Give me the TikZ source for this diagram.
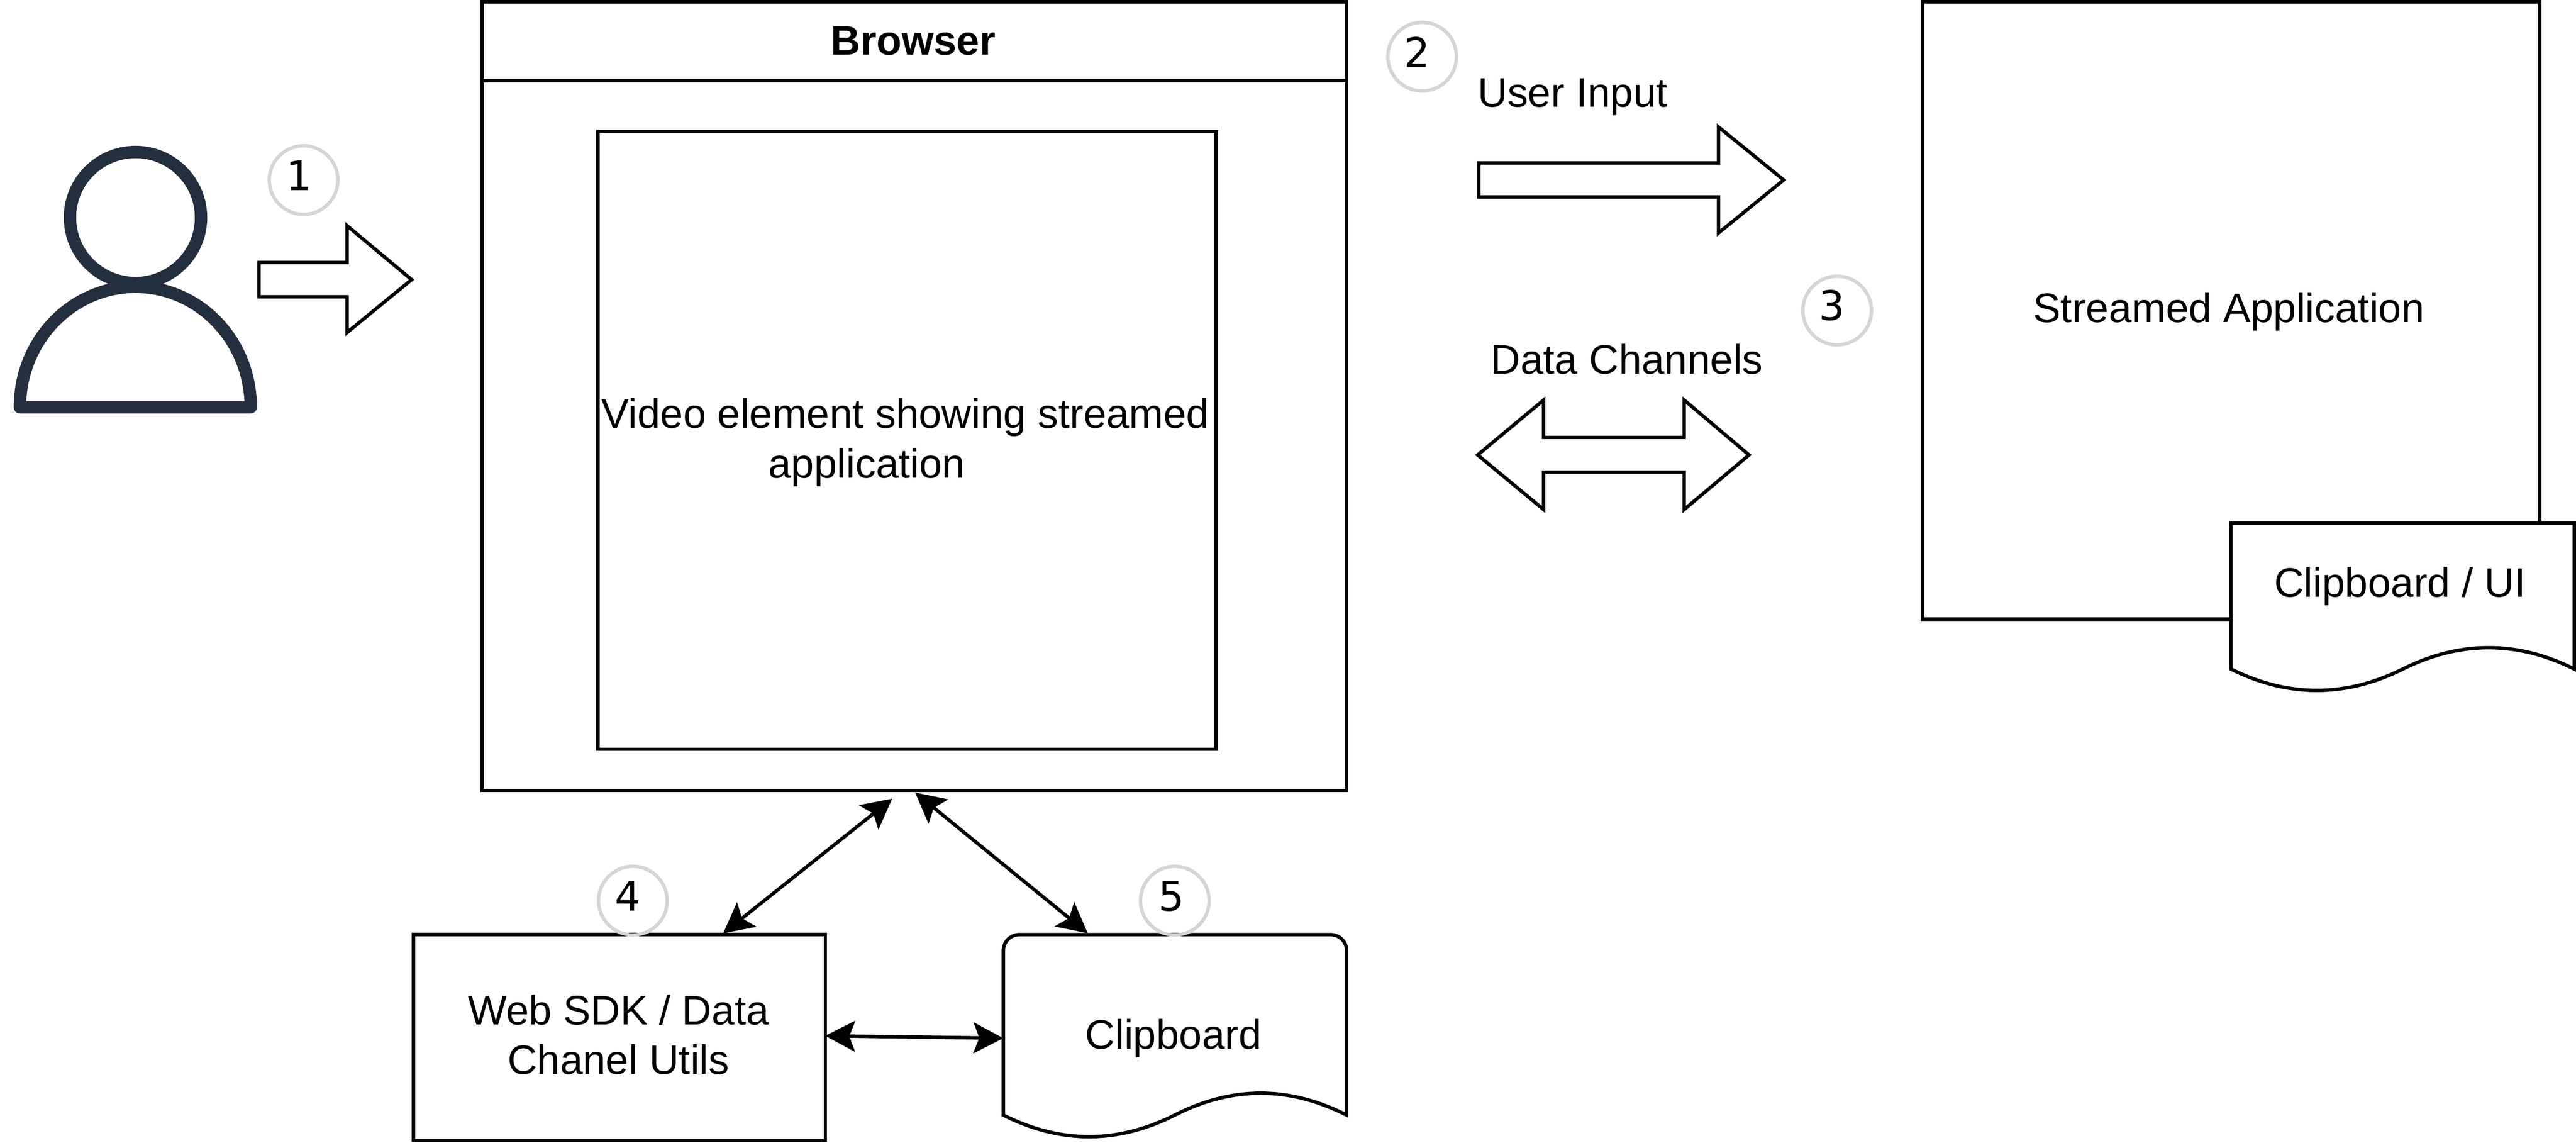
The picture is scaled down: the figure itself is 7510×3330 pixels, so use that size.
\documentclass[tikz,border=0pt]{standalone}
\usepackage{fontspec}
\setmainfont{Liberation Sans}
\newfontfamily\digitfont{DejaVu Sans}
\usetikzlibrary{arrows.meta}
\definecolor{personblue}{HTML}{232F3E}
\definecolor{badgegrey}{HTML}{D5D5D5}
\tikzset{
  boxnode/.style={draw=black,line width=1pt,fill=white,rectangle,inner sep=0pt,outer sep=0pt},
  labeltext/.style={inner sep=0pt,outer sep=0pt,anchor=base,font=\fontsize{12}{14.4}\selectfont,align=center},
  badge/.style={draw=badgegrey,line width=1pt,circle,minimum size=20pt,inner sep=0pt,outer sep=0pt},
  digittext/.style={inner sep=0pt,outer sep=0pt,anchor=base,font=\digitfont\fontsize{11.9}{14}\selectfont},
  bigarrow/.style={draw=black,line width=1pt,fill=white,line join=miter,miter limit=10},
  docshape/.style={draw=black,line width=1pt,fill=white},
  person/.style={draw=personblue,line width=3.6pt,fill=white,line join=round},
  link/.style={draw=black,line width=1pt,{Stealth[length=8.7pt,width=9pt,inset=1.7pt]}-{Stealth[length=8.7pt,width=9pt,inset=1.7pt]}},
}
\begin{document}
\begin{tikzpicture}[x=0.1pt,y=-0.1pt]
\useasboundingbox (0,0) rectangle (7510,3330);
% person
\draw[person] (395,634) circle[radius=191];
\draw[person] (58,1187) .. controls (58,993) and (209,836) .. (395,836)
  .. controls (581,836) and (731,993) .. (731,1187) -- cycle;
% browser
\node[boxnode,minimum width=252.1pt,minimum height=229.9pt] (browser) at (2665.5,1154.5) {};
\draw[line width=1pt] (browser.west |- 0,235) -- (browser.east |- 0,235);
\node[labeltext,font=\fontsize{12}{14.4}\selectfont\bfseries] (browsertitle) at (2662,160) {Browser};
\node[boxnode,minimum width=180.2pt,minimum height=180.1pt] (video) at (2644,1283.5) {};
\node[labeltext] (videoa) at (2640,1248) {Video element showing streamed};
\node[labeltext] (videob) at (2527,1393) {application};
% streamed application
\node[boxnode,minimum width=179.9pt,minimum height=180pt] (streamed) at (6504.5,905) {};
\node[labeltext] (streamedtext) at (6498,940) {Streamed Application};
\draw[docshape] (6504,1525) -- (7505,1525) -- (7505,1950)
  .. controls (7339,1867) and (7172,1867) .. (7005,1950)
  .. controls (6838,2033) and (6671,2033) .. (6504,1950) -- cycle;
\node[labeltext] (uitext) at (6997,1740) {Clipboard / UI};
% big arrows
\draw[bigarrow] (755,765) -- (1012,765) -- (1012,658) -- (1200,815) -- (1012,969) -- (1012,865) -- (755,865) -- cycle;
\draw[bigarrow] (4311,475) -- (5010,475) -- (5010,370) -- (5200,524.5) -- (5010,679) -- (5010,574) -- (4311,574) -- cycle;
\draw[bigarrow] (4308,1326) -- (4500,1166) -- (4500,1275) -- (4910,1275) -- (4910,1166) -- (5099,1326) -- (4910,1485) -- (4910,1376) -- (4500,1376) -- (4500,1485) -- cycle;
\node[labeltext] (userinput) at (4585,311) {User Input};
\node[labeltext] (datachannels) at (4743,1089) {Data Channels};
% lower boxes
\node[boxnode,minimum width=120.1pt,minimum height=60pt] (sdk) at (1805.5,3024) {};
\node[labeltext] (sdktext) at (1803,3131) {Web SDK / Data\\Chanel Utils};
\draw[docshape] (2925,3250) -- (2925,2772) .. controls (2925,2745) and (2945,2724) .. (2973,2724)
  -- (3878,2724) .. controls (3906,2724) and (3926,2745) .. (3926,2772) -- (3926,3250)
  .. controls (3758,3165) and (3592,3165) .. (3425,3250)
  .. controls (3258,3334) and (3092,3334) .. (2925,3250) -- cycle;
\node[inner sep=0pt,outer sep=0pt,minimum width=100.1pt,minimum height=59.3pt] (clip) at (3425.5,3020.5) {};
\node[labeltext] (cliptext) at (3421,3057) {Clipboard};
% connectors
\draw[link] ([xshift=30.3pt,yshift=0.4pt]sdk.north) -- ([xshift=-6.45pt,yshift=-2.4pt]browser.south);
\draw[link] ([xshift=0.25pt,yshift=-0.6pt]browser.south) -- ([xshift=-25.45pt,yshift=0.4pt]clip.north);
\draw[link] ([yshift=0.5pt]sdk.east) -- ([yshift=-0.55pt]clip.west);
% numbered badges
\node[badge] (b1) at (885,525) {};
\node[digittext] (n1) at (872,555) {1};
\node[badge] (b2) at (4146,165) {};
\node[digittext] (n2) at (4131,196) {2};
\node[badge] (b3) at (5356,905) {};
\node[digittext] (n3) at (5340,933) {3};
\node[badge] (b4) at (1845,2625) {};
\node[digittext] (n4) at (1830,2655) {4};
\node[badge] (b5) at (3425,2625) {};
\node[digittext] (n5) at (3415,2655) {5};
\end{tikzpicture}
\end{document}
